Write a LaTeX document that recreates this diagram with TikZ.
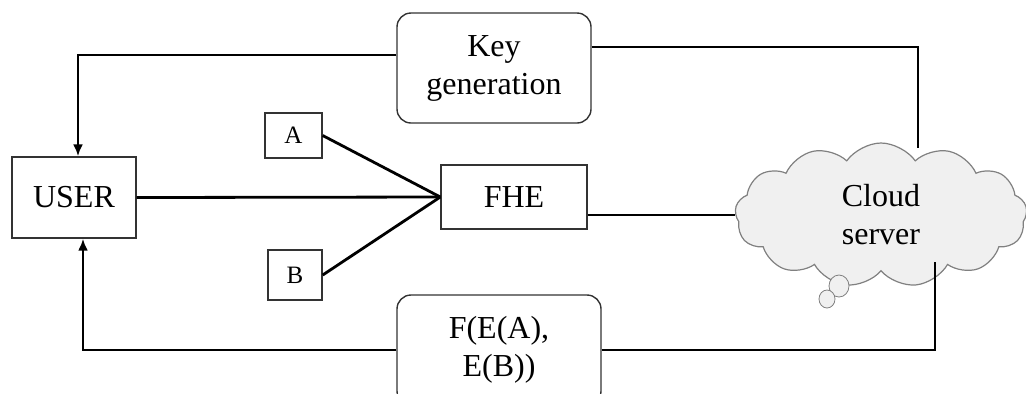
\documentclass[tikz,border=0pt]{standalone}
\usepackage{fontspec}
\setmainfont{Liberation Serif}
\usetikzlibrary{positioning}
\usetikzlibrary{arrows.meta}
\usetikzlibrary{shapes}
\tikzset{
        blocknode/.style={align=center,inner sep=0pt,font=\fontsize{16}{19}\selectfont},
        % Plain boxes
        node_plain/.style={blocknode, rectangle, draw=black!80, line width=0.7pt, fill=white},
        % Rounded boxes
        node_round/.style={node_plain, rounded corners=7pt},
        % Small input boxes
        node_input/.style={node_plain, font=\fontsize{12.5}{15}\selectfont},
        % Cloud
        node_cloud/.style={blocknode, cloud, cloud puffs=13, cloud puff arc=110, draw=black!50, fill=black!6, line width=0.6pt},
        % Connectors
        link/.style={black, line width=1.4pt},
        link_arrow/.style={link, -{Latex[length=6pt,width=5pt]}}
}
\begin{document}
\begin{tikzpicture}[x=0.5pt, y=-0.5pt]
            \useasboundingbox (0,0) rectangle (1026,393);
            \node[node_plain, minimum width=62pt, minimum height=40.5pt] (user) at (74,197.5) {USER};
            \node[node_round, minimum width=97pt, minimum height=55pt] (keygen) at (494,68) {Key\\generation};
            \node[node_input, minimum width=28.5pt, minimum height=22.5pt] (a) at (293.5,135.5) {A};
            \node[node_input, minimum width=27pt, minimum height=25pt] (b) at (295,275) {B};
            \node[node_plain, minimum width=73pt, minimum height=32pt] (fhe) at (514,197) {FHE};
            \node[node_round, minimum width=102pt, minimum height=55pt] (result) at (499,350) {F(E(A),\\E(B))};
            \node[node_cloud, minimum width=146pt, minimum height=72pt] (cloud) at (881,215) {Cloud\\server};
            \draw[draw=black!50, fill=black!6] (839,286) ellipse (5pt and 5.5pt);
            \draw[draw=black!50, fill=black!6] (827,299) ellipse (4pt and 4.5pt);

            \draw[link] (user.east) -- (fhe.west);
            \draw[link] (a.east) -- (fhe.west);
            \draw[link] (b.east) -- (fhe.west);
            \draw[link] (cloud.west -| fhe.east) -- (cloud.west);
            \draw[link_arrow] ([yshift=6.5pt]keygen.west) -| ([xshift=2pt]user.north);
            \draw[link_arrow] (result.west) -| ([xshift=4.5pt]user.south);
            \draw[link] ([yshift=10.5pt]keygen.east) -| ([shift={(18.5pt,33.5pt)}]cloud.center);
            \draw[link] (result.east) -| ([shift={(27pt,-23.5pt)}]cloud.center);
        \end{tikzpicture}
\end{document}
